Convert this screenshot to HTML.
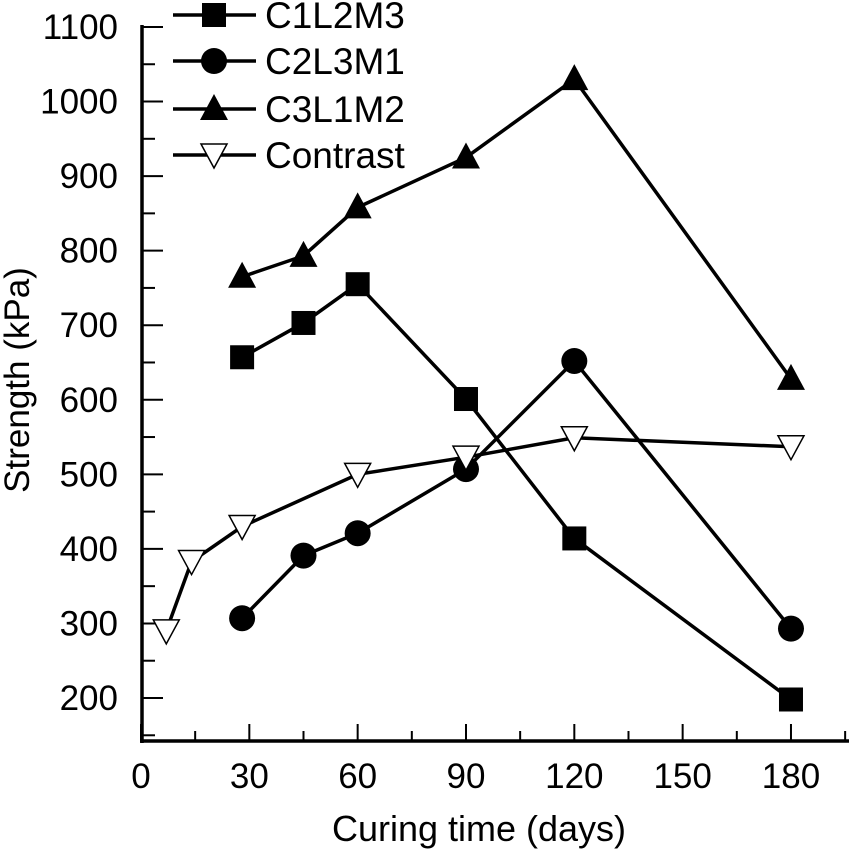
<!DOCTYPE html>
<html><head><meta charset="utf-8"><style>
body{margin:0;background:#fff}
svg{display:block;font-family:"Liberation Sans",Arial,sans-serif}
</style></head><body>
<svg id="c" width="852" height="852"></svg>
<script>
const days1=[28,45,60,90,120,180];
const c1l2m3=[657,703,755,601,414,198];
const c2l3m1=[307,391,421,507,652,293];
const c3l1m2=[765,793,858,925,1030,628];
const daysC=[7,14,28,60,90,120,180];
const contrast=[290,383,430,500,523,549,537];
const xTicks=[0,30,60,90,120,150,180];
const yTicks=[200,300,400,500,600,700,800,900,1000,1100];
const seriesNames=["C1L2M3","C2L3M1","C3L1M2","Contrast"];

const NS="http://www.w3.org/2000/svg";
const svg=document.getElementById('c');
const X=d=>141+d*3.611;
const Y=v=>698-(v-200)*0.7456;
function el(t,a,p){const e=document.createElementNS(NS,t);for(const k in a)e.setAttribute(k,a[k]);(p||svg).appendChild(e);return e;}

const axes=el('g',{});


el('line',{x1:142,y1:25,x2:142,y2:743,stroke:'#000','stroke-width':3.5},axes);
el('line',{x1:140,y1:741,x2:849,y2:741,stroke:'#000','stroke-width':3.5},axes);
for(let d=0;d<=195;d+=15){const major=d%30===0;
  el('line',{x1:X(d),x2:X(d),y1:741,y2:major?724:731,stroke:'#000','stroke-width':2},axes);}
for(let v=150;v<=1100;v+=50){const major=v%100===0;
  el('line',{x1:142,x2:major?163:155,y1:Y(v),y2:Y(v),stroke:'#000','stroke-width':2},axes);}
xTicks.forEach(d=>{const t=el('text',{x:X(d),y:788,'text-anchor':'middle','font-size':35},axes);t.textContent=d;
  
  });
yTicks.forEach(v=>{const t=el('text',{x:118,y:Y(v)+12,'text-anchor':'end','font-size':35},axes);t.textContent=v;
  
  });
const xt=el('text',{x:479,y:841,'text-anchor':'middle','font-size':36});xt.textContent='Curing time (days)';


const yt=el('text',{x:0,y:0,'text-anchor':'middle','font-size':35,transform:'translate(29,380) rotate(-90)'});yt.textContent='Strength (kPa)';



function marker(g,type,x,y){
  if(type==0)el('rect',{x:x-12,y:y-12,width:24,height:24,fill:'#000'},g);
  else if(type==1)el('circle',{cx:x,cy:y,r:13,fill:'#000'},g);
  else if(type==2)el('polygon',{points:`${x},${y-15} ${x+14},${y+11} ${x-14},${y+11}`,fill:'#000'},g);
  else el('polygon',{points:`${x-13},${y-11} ${x+13},${y-11} ${x},${y+13}`,fill:'#fff',stroke:'#000','stroke-width':1.5},g);
}
const allX=[days1,days1,days1,daysC];
const allY=[c1l2m3,c2l3m1,c3l1m2,contrast];
allY.forEach((vals,i)=>{
  const g=el('g',{});
  
  
  el('polyline',{points:vals.map((v,j)=>X(allX[i][j])+','+Y(v)).join(' '),fill:'none',stroke:'#000','stroke-width':3.5},g);
  vals.forEach((v,j)=>marker(g,i,X(allX[i][j]),Y(v)));
});
const ly=[15,61,109,155];
seriesNames.forEach((n,i)=>{
  const g=el('g',{});
  
  
  el('line',{x1:173,x2:256,y1:ly[i],y2:ly[i],stroke:'#000','stroke-width':3.5},g);
  marker(g,i,214,ly[i]);
  const t=el('text',{x:265,y:ly[i]+13,'font-size':37},g);t.textContent=n;
});
</script>
</body></html>
